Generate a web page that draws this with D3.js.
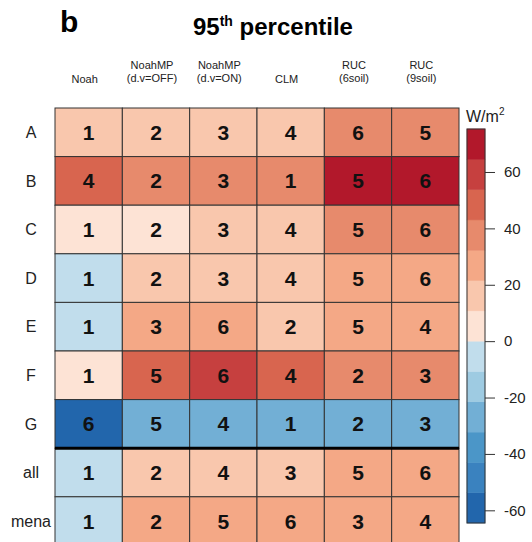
<!DOCTYPE html>
<html>
<head>
<meta charset="utf-8">
<script src="https://cdn.jsdelivr.net/npm/d3@7"></script>
<style>
  body { margin: 0; background: #fff; }
  text { font-family: "Liberation Sans", Arial, Helvetica, sans-serif; }
</style>
</head>
<body>
<div id="chart"></div>
<script>
// models (columns) and regions (rows)
let models = ["Noah", "NoahMP|(d.v=OFF)", "NoahMP|(d.v=ON)", "CLM", "RUC|(6soil)", "RUC|(9soil)"];
let regions = ["A", "B", "C", "D", "E", "F", "G", "all", "mena"];

// 95th percentile bias, W/m2
let bias = [
    [15, 17, 18, 14, 40, 38],
    [47, 36, 35, 37, 70, 72],
    [6, 5, 14, 17, 37, 35],
    [-6, 15, 16, 16, 27, 26],
    [-7, 25, 28, 15, 26, 25],
    [8, 46, 58, 45, 36, 35],
    [-60, -27, -28, -26, -27, -26],
    [-5, 16, 17, 15, 25, 27],
    [-6, 26, 27, 28, 25, 26]
];

// rank of each model within a region
let ranks = [
    [1, 2, 3, 4, 6, 5],
    [4, 2, 3, 1, 5, 6],
    [1, 2, 3, 4, 5, 6],
    [1, 2, 3, 4, 5, 6],
    [1, 3, 6, 2, 5, 4],
    [1, 5, 6, 4, 2, 3],
    [6, 5, 4, 1, 2, 3],
    [1, 2, 4, 3, 5, 6],
    [1, 2, 5, 6, 3, 4]
];

// colour bar levels and colours
let breaks = [-64.5, -53.75, -43, -32.25, -21.5, -10.75, 0, 10.75, 21.5, 32.25, 43, 53.75, 64.5, 75.25];
let colors = ["#2266ac", "#3a82bf", "#4b96c8", "#72afd5", "#9ecbe2", "#c1ddec",
              "#fde3d5", "#f9c7ad", "#f4a886", "#e78a6c", "#d8654f", "#c6403f", "#b2182b"];
let barTicks = [-60, -40, -20, 0, 20, 40, 60];

let width = 532, height = 542;
let margin = { "top": 108, "left": 55, "right": 73 };
let rowH = 48.6;

let svg = d3.select('#chart').append('svg')
    .attr('width', width)
    .attr('height', height);

let xScale = d3.scaleBand()
    .domain(models)
    .range([margin.left, width - margin.right]);
let yScale = d3.scaleBand()
    .domain(regions)
    .range([margin.top, margin.top + rowH * regions.length]);
let colorScale = d3.scaleThreshold()
    .domain(breaks.slice(1, -1))
    .range(colors);

// panel letter and title
svg.append('text')
    .attr('x', 60).attr('y', 32)
    .attr('font-size', 30).attr('font-weight', 'bold')
    .text('b');
let title = svg.append('text')
    .attr('x', 193).attr('y', 35)
    .attr('font-size', 24).attr('font-weight', 'bold');
title.append('tspan').text('95');
title.append('tspan').attr('font-size', 14).attr('dy', -9).text('th');
title.append('tspan').attr('dy', 9).text(' percentile');

// column labels
models.forEach(function (m) {
    let parts = m.split('|');
    let cx = xScale(m) + xScale.bandwidth() / 2 - 4;
    let t = svg.append('text')
        .attr('text-anchor', 'middle')
        .attr('font-size', 11)
        .attr('fill', '#222');
    if (parts.length === 1) {
        t.attr('x', cx).attr('y', 83).text(parts[0]);
    } else {
        t.append('tspan').attr('x', cx).attr('y', 69).text(parts[0]);
        t.append('tspan').attr('x', cx).attr('y', 82).text(parts[1]);
    }
});

// row labels
svg.append('g')
    .selectAll('text')
    .data(regions)
    .enter()
    .append('text')
    .attr('x', 31)
    .attr('y', function (d) { return yScale(d) + yScale.bandwidth() / 2; })
    .attr('dy', '0.36em')
    .attr('text-anchor', 'middle')
    .attr('font-size', 16)
    .attr('fill', '#222')
    .text(function (d) { return d; });

// cells
let cells = [];
regions.forEach(function (r, i) {
    models.forEach(function (m, j) {
        cells.push({ region: r, model: m, value: bias[i][j], rank: ranks[i][j] });
    });
});

let cell = svg.append('g')
    .selectAll('g')
    .data(cells)
    .enter()
    .append('g');
cell.append('rect')
    .attr('x', function (d) { return xScale(d.model); })
    .attr('y', function (d) { return yScale(d.region); })
    .attr('width', xScale.bandwidth())
    .attr('height', yScale.bandwidth())
    .attr('fill', function (d) { return colorScale(d.value); })
    .attr('stroke', '#333')
    .attr('stroke-width', 1);
cell.append('text')
    .attr('x', function (d) { return xScale(d.model) + xScale.bandwidth() / 2; })
    .attr('y', function (d) { return yScale(d.region) + yScale.bandwidth() / 2; })
    .attr('dy', '0.36em')
    .attr('text-anchor', 'middle')
    .attr('font-size', 21)
    .attr('font-weight', 'bold')
    .attr('fill', '#111')
    .text(function (d) { return d.rank; });

// thick separator between regions and aggregates
svg.append('line')
    .attr('x1', margin.left).attr('x2', width - margin.right)
    .attr('y1', yScale('all')).attr('y2', yScale('all'))
    .attr('stroke', '#000')
    .attr('stroke-width', 3);

// colour bar
let barX = 467, barW = 18;
let barScale = d3.scaleLinear()
    .domain([breaks[0], breaks[breaks.length - 1]])
    .range([523, 129]);
let bar = svg.append('g');
bar.selectAll('rect')
    .data(colors)
    .enter()
    .append('rect')
    .attr('x', barX)
    .attr('y', function (d, i) { return barScale(breaks[i + 1]); })
    .attr('width', barW)
    .attr('height', function (d, i) { return barScale(breaks[i]) - barScale(breaks[i + 1]); })
    .attr('fill', function (d) { return d; })
    .attr('stroke', function (d) { return d; })
    .attr('stroke-width', 0.5);
bar.append('rect')
    .attr('x', barX).attr('y', barScale.range()[1])
    .attr('width', barW)
    .attr('height', barScale.range()[0] - barScale.range()[1])
    .attr('fill', 'none')
    .attr('stroke', '#333')
    .attr('stroke-width', 1);

let barAxis = d3.axisRight(barScale)
    .tickValues(barTicks)
    .tickSize(10)
    .tickPadding(9)
    .tickFormat(function (d) { return String(d); });
let axisG = svg.append('g')
    .attr('transform', 'translate(' + (barX + barW) + ',0)')
    .call(barAxis);
axisG.select('.domain').remove();
axisG.selectAll('line').attr('stroke', '#333');
axisG.selectAll('text')
    .attr('font-size', 15)
    .attr('font-family', '"Liberation Sans", Arial, sans-serif')
    .attr('fill', '#222');

// units
let unit = svg.append('text')
    .attr('x', 466).attr('y', 122)
    .attr('font-size', 16)
    .attr('fill', '#222');
unit.append('tspan').text('W/m');
unit.append('tspan').attr('font-size', 10).attr('dy', -7).text('2');
</script>
</body>
</html>
